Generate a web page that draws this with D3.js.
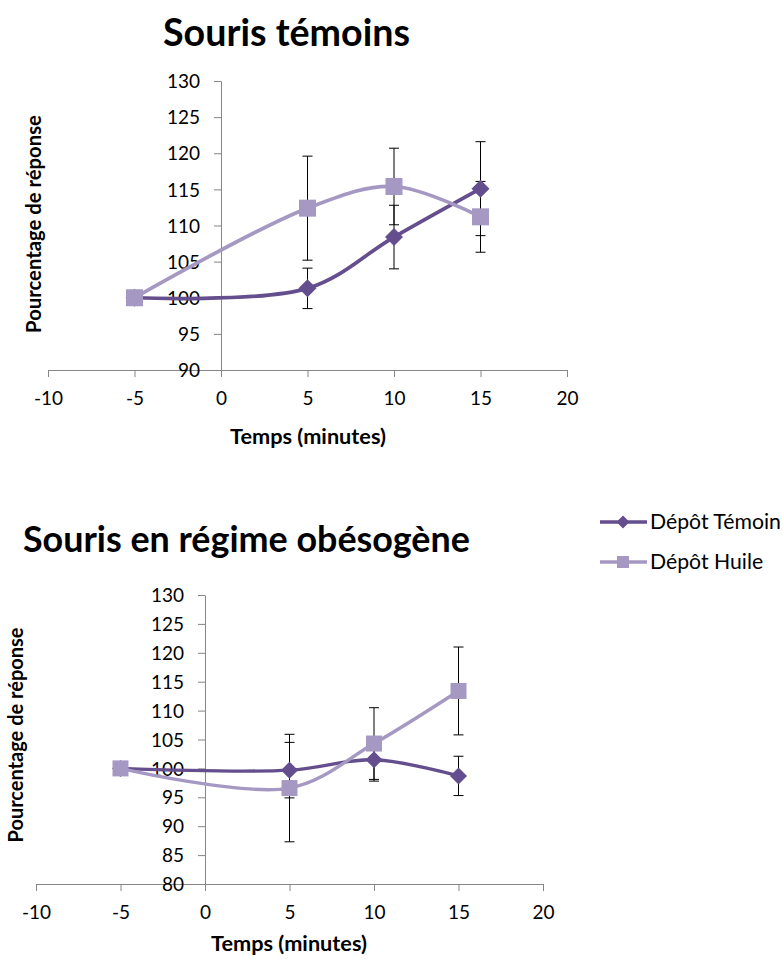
<!DOCTYPE html>
<html>
<head>
<meta charset="utf-8">
<script src="https://cdn.jsdelivr.net/npm/d3@7/dist/d3.min.js"></script>
<style>
  html, body { margin: 0; padding: 0; background: #fff; }
  svg text { font-family: Lato, "Open Sans", sans-serif; fill: #000; }
</style>
</head>
<body>
<svg id="chart" width="783" height="959"></svg>
<script>
// ---- Data ----
const times = [-5, 5, 10, 15];
const seriesNames = ["Dépôt Témoin", "Dépôt Huile"];

const temoinTop = [100, 101.3, 108.4, 115.1];
const temoinTopErr = [0, 2.8, 4.4, 6.5];
const huileTop = [100, 112.4, 115.4, 111.2];
const huileTopErr = [0, 7.2, 5.3, 4.9];

const temoinBot = [100, 99.7, 101.5, 98.7];
const temoinBotErr = [0, 4.8, 3.7, 3.4];
const huileBot = [100, 96.6, 104.3, 113.4];
const huileBotErr = [0, 9.3, 6.2, 7.6];

const xTicks = [-10, -5, 0, 5, 10, 15, 20];
const yTicksTop = [90, 95, 100, 105, 110, 115, 120, 125, 130];
const yTicksBot = [80, 85, 90, 95, 100, 105, 110, 115, 120, 125, 130];

const titles = ["Souris témoins", "Souris en régime obésogène"];
const xTitle = "Temps (minutes)";
const yTitle = "Pourcentage de réponse";

// ---- Styles ----
const darkC = "#654E8D";
const lightC = "#A598C3";
const axisC = "#868686";

const svg = d3.select("#chart");

function fit(sel, w) {
  const l = sel.node().getComputedTextLength();
  const fs = parseFloat(sel.style("font-size"));
  sel.style("font-size", (fs * w / l) + "px");
}

function drawPanel(cfg) {
  const x = d3.scaleLinear().domain([-10, 20]).range([cfg.x0, cfg.x1]);
  const y = d3.scaleLinear().domain([cfg.yTicks[0], cfg.yTicks[cfg.yTicks.length - 1]]).range([cfg.yb, cfg.yt]);
  const g = svg.append("g");

  // x axis
  const xa = g.append("g").attr("transform", `translate(0,${y(cfg.yTicks[0])})`)
    .call(d3.axisBottom(x).tickValues(xTicks).tickSize(7).tickSizeOuter(0).tickFormat(d => String(d)));
  xa.selectAll("path,line").attr("stroke", axisC);
  xa.selectAll("text").attr("y", cfg.xLabOff).attr("dy", "0.35em")
    .style("font-size", "19px").style("font-family", "Lato").attr("fill", "#000");

  // y axis
  const ya = g.append("g").attr("transform", `translate(${x(0)},0)`)
    .call(d3.axisLeft(y).tickValues(cfg.yTicks).tickSize(7).tickSizeOuter(0).tickFormat(d => String(d)));
  ya.selectAll("path,line").attr("stroke", axisC);
  ya.selectAll("text").attr("x", -21).attr("dy", "0.35em")
    .style("font-size", "19px").style("font-family", "Lato").attr("fill", "#000");

  // titles
  const t = g.append("text").text(cfg.title).attr("x", cfg.titleX).attr("y", cfg.titleY)
    .attr("text-anchor", cfg.titleAnchor).style("font-weight", "bold").style("font-size", "32px");
  fit(t, cfg.titleW);

  const xt = g.append("text").text(xTitle).attr("x", cfg.xtX).attr("y", cfg.xtY)
    .attr("text-anchor", "middle").attr("dy", "0.35em").style("font-weight", "bold").style("font-size", "17px");
  fit(xt, 156);

  const yt = g.append("text").text(yTitle)
    .attr("transform", `translate(${cfg.ytX},${cfg.ytY}) rotate(-90)`)
    .attr("text-anchor", "middle").attr("dy", "0.35em").style("font-weight", "bold").style("font-size", "17px");
  fit(yt, cfg.ytW);

  const line = d3.line().x((d, i) => x(times[i])).y(d => y(d)).curve(d3.curveCatmullRom.alpha(0.5));

  const series = [
    { vals: cfg.temoin, err: cfg.temoinErr, color: darkC, marker: "diamond" },
    { vals: cfg.huile, err: cfg.huileErr, color: lightC, marker: "square" }
  ];

  // error bars
  series.forEach(s => {
    const eb = g.append("g");
    s.vals.forEach((v, i) => {
      if (!s.err[i]) return;
      const cx = x(times[i]);
      const top = y(v + s.err[i]), bot = y(v - s.err[i]);
      eb.append("line").attr("x1", cx).attr("x2", cx).attr("y1", top).attr("y2", bot)
        .attr("stroke", "#000").attr("stroke-width", 1);
      [top, bot].forEach(yy => eb.append("line").attr("x1", cx - 5).attr("x2", cx + 5)
        .attr("y1", yy).attr("y2", yy).attr("stroke", "#000").attr("stroke-width", 1));
    });
  });

  // lines + markers
  series.forEach(s => {
    g.append("path").datum(s.vals).attr("d", line).attr("fill", "none")
      .attr("stroke", s.color).attr("stroke-width", cfg.lw);
    s.vals.forEach((v, i) => {
      const cx = x(times[i]), cy = y(v);
      if (s.marker === "square") {
        g.append("rect").attr("x", cx - cfg.sq / 2).attr("y", cy - cfg.sq / 2)
          .attr("width", cfg.sq).attr("height", cfg.sq).attr("fill", s.color);
      } else {
        const r = cfg.dm / 2;
        g.append("path").attr("d", `M${cx},${cy - r}L${cx + r},${cy}L${cx},${cy + r}L${cx - r},${cy}Z`)
          .attr("fill", s.color);
      }
    });
  });
}

drawPanel({
  x0: 48, x1: 567, yt: 81, yb: 370, yTicks: yTicksTop, xLabOff: 28,
  title: titles[0], titleX: 163, titleY: 46, titleAnchor: "start", titleW: 247,
  xtX: 308, xtY: 436, ytX: 34, ytY: 224, ytW: 218,
  temoin: temoinTop, temoinErr: temoinTopErr, huile: huileTop, huileErr: huileTopErr,
  lw: 3.7, sq: 17, dm: 18
});

drawPanel({
  x0: 36, x1: 543, yt: 595, yb: 884, yTicks: yTicksBot, xLabOff: 28,
  title: titles[1], titleX: 23, titleY: 552, titleAnchor: "start", titleW: 447,
  xtX: 289, xtY: 943, ytX: 16, ytY: 735, ytW: 215,
  temoin: temoinBot, temoinErr: temoinBotErr, huile: huileBot, huileErr: huileBotErr,
  lw: 3.4, sq: 16, dm: 17
});

// legend
const legend = svg.append("g");
const legColors = [darkC, lightC];
const legMarkers = ["diamond", "square"];
seriesNames.forEach((name, i) => {
  const ly = 522 + i * 40;
  legend.append("line").attr("x1", 600).attr("x2", 647).attr("y1", ly).attr("y2", ly)
    .attr("stroke", legColors[i]).attr("stroke-width", 3.5);
  if (legMarkers[i] === "diamond") {
    const r = 6.5, cx = 623;
    legend.append("path").attr("d", `M${cx},${ly - r}L${cx + r},${ly}L${cx},${ly + r}L${cx - r},${ly}Z`)
      .attr("fill", legColors[i]);
  } else {
    legend.append("rect").attr("x", 617).attr("y", ly - 6).attr("width", 12).attr("height", 12)
      .attr("fill", legColors[i]);
  }
  const t = legend.append("text").text(name).attr("x", 650).attr("y", ly).attr("dy", "0.35em")
    .style("font-size", "18px");
  if (i === 0) fit(t, 131);
  else t.style("font-size", legend.select("text").style("font-size"));
});
</script>
</body>
</html>
